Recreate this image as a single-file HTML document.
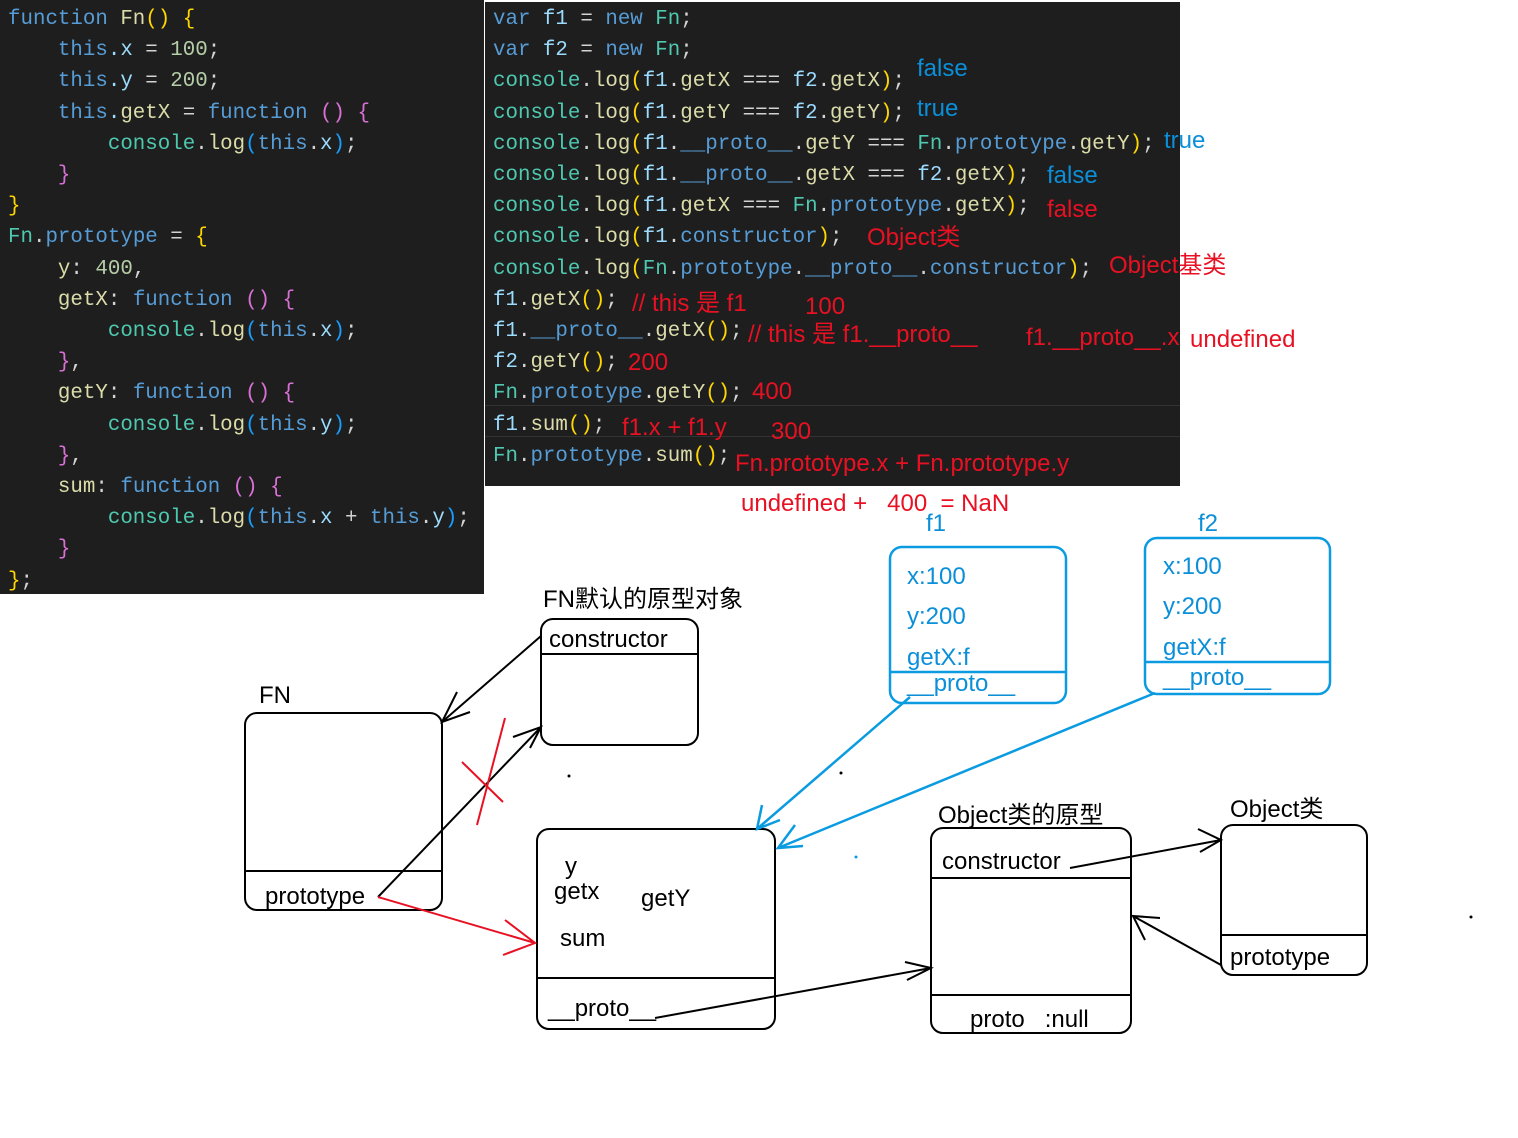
<!DOCTYPE html>
<html><head><meta charset="utf-8"><style>
body{margin:0;width:1518px;height:1138px;background:#fff;position:relative;overflow:hidden;font-family:"Liberation Sans","Noto Sans CJK SC",sans-serif}
.p{position:absolute;background:#1e1e1e}
.c{position:absolute;font-family:"Liberation Mono",monospace;font-size:20.8px;white-space:pre;line-height:24px;color:#9cdcfe}
.t{position:absolute;white-space:pre;font-size:24px;line-height:28px}
.r{color:#e81123}.b{color:#0a8fd8}.k{color:#000}
.kw{color:#569cd6}.cl{color:#4ec9b0}.fn{color:#dcdcaa}.nm{color:#b5cea8}.y{color:#ffd700}.pu{color:#da70d6}.w{color:#d4d4d4}.bl{color:#179fff}
</style></head><body>
<div class="p" style="left:0;top:0;width:484px;height:594px"></div>
<div class="p" style="left:485;left:485px;top:2px;width:695px;height:484px"></div>
<div style="position:absolute;left:485px;top:405px;width:695px;height:1px;background:#333"></div>
<div style="position:absolute;left:485px;top:436px;width:695px;height:1px;background:#333"></div>
<div class="c" style="left:8px;top:4px;line-height:31.2px"><span class="kw">function</span> <span class="fn">Fn</span><span class="y">()</span> <span class="y">{</span>
    <span class="kw">this</span>.x <span class="w">=</span> <span class="nm">100</span><span class="w">;</span>
    <span class="kw">this</span>.y <span class="w">=</span> <span class="nm">200</span><span class="w">;</span>
    <span class="kw">this</span>.<span class="fn">getX</span> <span class="w">=</span> <span class="kw">function</span> <span class="pu">()</span> <span class="pu">{</span>
        <span class="cl">console</span><span class="w">.</span><span class="fn">log</span><span class="bl">(</span><span class="kw">this</span><span class="w">.</span>x<span class="bl">)</span><span class="w">;</span>
    <span class="pu">}</span>
<span class="y">}</span>
<span class="cl">Fn</span><span class="w">.</span><span class="kw">prototype</span> <span class="w">=</span> <span class="y">{</span>
    <span class="fn">y</span><span class="w">:</span> <span class="nm">400</span><span class="w">,</span>
    <span class="fn">getX</span><span class="w">:</span> <span class="kw">function</span> <span class="pu">()</span> <span class="pu">{</span>
        <span class="cl">console</span><span class="w">.</span><span class="fn">log</span><span class="bl">(</span><span class="kw">this</span><span class="w">.</span>x<span class="bl">)</span><span class="w">;</span>
    <span class="pu">}</span><span class="w">,</span>
    <span class="fn">getY</span><span class="w">:</span> <span class="kw">function</span> <span class="pu">()</span> <span class="pu">{</span>
        <span class="cl">console</span><span class="w">.</span><span class="fn">log</span><span class="bl">(</span><span class="kw">this</span><span class="w">.</span>y<span class="bl">)</span><span class="w">;</span>
    <span class="pu">}</span><span class="w">,</span>
    <span class="fn">sum</span><span class="w">:</span> <span class="kw">function</span> <span class="pu">()</span> <span class="pu">{</span>
        <span class="cl">console</span><span class="w">.</span><span class="fn">log</span><span class="bl">(</span><span class="kw">this</span><span class="w">.</span>x <span class="w">+</span> <span class="kw">this</span><span class="w">.</span>y<span class="bl">)</span><span class="w">;</span>
    <span class="pu">}</span>
<span class="y">}</span><span class="w">;</span></div>
<div class="c" style="left:493px;top:4px;line-height:31.2px"><span class="kw">var</span> f1 <span class="w">=</span> <span class="kw">new</span> <span class="cl">Fn</span><span class="w">;</span>
<span class="kw">var</span> f2 <span class="w">=</span> <span class="kw">new</span> <span class="cl">Fn</span><span class="w">;</span>
<span class="cl">console</span><span class="w">.</span><span class="fn">log</span><span class="y">(</span>f1<span class="w">.</span><span class="fn">getX</span> <span class="w">===</span> f2<span class="w">.</span><span class="fn">getX</span><span class="y">)</span><span class="w">;</span>
<span class="cl">console</span><span class="w">.</span><span class="fn">log</span><span class="y">(</span>f1<span class="w">.</span><span class="fn">getY</span> <span class="w">===</span> f2<span class="w">.</span><span class="fn">getY</span><span class="y">)</span><span class="w">;</span>
<span class="cl">console</span><span class="w">.</span><span class="fn">log</span><span class="y">(</span>f1<span class="w">.</span><span class="kw">__proto__</span><span class="w">.</span><span class="fn">getY</span> <span class="w">===</span> <span class="cl">Fn</span><span class="w">.</span><span class="kw">prototype</span><span class="w">.</span><span class="fn">getY</span><span class="y">)</span><span class="w">;</span>
<span class="cl">console</span><span class="w">.</span><span class="fn">log</span><span class="y">(</span>f1<span class="w">.</span><span class="kw">__proto__</span><span class="w">.</span><span class="fn">getX</span> <span class="w">===</span> f2<span class="w">.</span><span class="fn">getX</span><span class="y">)</span><span class="w">;</span>
<span class="cl">console</span><span class="w">.</span><span class="fn">log</span><span class="y">(</span>f1<span class="w">.</span><span class="fn">getX</span> <span class="w">===</span> <span class="cl">Fn</span><span class="w">.</span><span class="kw">prototype</span><span class="w">.</span><span class="fn">getX</span><span class="y">)</span><span class="w">;</span>
<span class="cl">console</span><span class="w">.</span><span class="fn">log</span><span class="y">(</span>f1<span class="w">.</span><span class="kw">constructor</span><span class="y">)</span><span class="w">;</span>
<span class="cl">console</span><span class="w">.</span><span class="fn">log</span><span class="y">(</span><span class="cl">Fn</span><span class="w">.</span><span class="kw">prototype</span><span class="w">.</span><span class="kw">__proto__</span><span class="w">.</span><span class="kw">constructor</span><span class="y">)</span><span class="w">;</span>
f1<span class="w">.</span><span class="fn">getX</span><span class="y">()</span><span class="w">;</span>
f1<span class="w">.</span><span class="kw">__proto__</span><span class="w">.</span><span class="fn">getX</span><span class="y">()</span><span class="w">;</span>
f2<span class="w">.</span><span class="fn">getY</span><span class="y">()</span><span class="w">;</span>
<span class="cl">Fn</span><span class="w">.</span><span class="kw">prototype</span><span class="w">.</span><span class="fn">getY</span><span class="y">()</span><span class="w">;</span>
f1<span class="w">.</span><span class="fn">sum</span><span class="y">()</span><span class="w">;</span>
<span class="cl">Fn</span><span class="w">.</span><span class="kw">prototype</span><span class="w">.</span><span class="fn">sum</span><span class="y">()</span><span class="w">;</span></div>
<div class="t b" style="left:917px;top:55px">false</div>
<div class="t b" style="left:917px;top:95px">true</div>
<div class="t b" style="left:1164px;top:127px">true</div>
<div class="t b" style="left:1047px;top:162px">false</div>
<div class="t r" style="left:1047px;top:196px">false</div>
<div class="t r" style="left:867px;top:224px">Object类</div>
<div class="t r" style="left:1109px;top:252px">Object基类</div>
<div class="t r" style="left:632px;top:290px">// this 是 f1</div>
<div class="t r" style="left:805px;top:293px">100</div>
<div class="t r" style="left:748px;top:321px">// this 是 f1.__proto__</div>
<div class="t r" style="left:1026px;top:324px">f1.__proto__.x</div>
<div class="t r" style="left:1190px;top:326px">undefined</div>
<div class="t r" style="left:628px;top:349px">200</div>
<div class="t r" style="left:752px;top:378px">400</div>
<div class="t r" style="left:622px;top:414px">f1.x + f1.y</div>
<div class="t r" style="left:771px;top:418px">300</div>
<div class="t r" style="left:735px;top:450px">Fn.prototype.x + Fn.prototype.y</div>
<div class="t r" style="left:741px;top:490px">undefined +&nbsp;&nbsp;&nbsp;400&nbsp;&nbsp;= NaN</div>
<svg style="position:absolute;left:0;top:0" width="1518" height="1138">
<g fill="none" stroke="#000" stroke-width="2">
<rect x="245" y="713" width="197" height="197" rx="12"/><line x1="245" y1="871" x2="442" y2="871"/>
<rect x="541" y="619" width="157" height="126" rx="12"/><line x1="541" y1="654" x2="698" y2="654"/>
<rect x="537" y="829" width="238" height="200" rx="12"/><line x1="537" y1="978" x2="775" y2="978"/>
<rect x="931" y="828" width="200" height="205" rx="12"/><line x1="931" y1="878" x2="1131" y2="878"/><line x1="931" y1="995" x2="1131" y2="995"/>
<rect x="1221" y="825" width="146" height="150" rx="12"/><line x1="1221" y1="935" x2="1367" y2="935"/>
<path d="M442 722 L541 636 M457 692 L442 722 L470 712"/>
<path d="M378 897 L541 727 M513 737 L541 727 L530 748"/>
<path d="M655 1018 L931 968 M905 962 L931 968 L907 980"/>
<path d="M1070 868 L1221 840 M1198 829 L1221 840 L1200 852"/>
<path d="M1221 965 L1133 916 M1145 940 L1133 916 L1160 918"/>
</g>
<g fill="none" stroke="#e81123" stroke-width="2">
<path d="M378 897 L535 943 M505 920 L535 943 L503 955"/>
<path d="M505 718 L477 825 M462 762 L503 802"/>
</g>
<g fill="none" stroke="#0a9be0" stroke-width="2.5">
<rect x="890" y="547" width="176" height="156" rx="12"/><line x1="890" y1="672" x2="1066" y2="672"/>
<rect x="1145" y="538" width="185" height="156" rx="12"/><line x1="1145" y1="662" x2="1330" y2="662"/>
<path d="M910 697 L757 829 M762 805 L757 829 L780 820"/>
<path d="M1155 693 L778 848 M795 825 L778 848 L803 846"/>
</g>
<g fill="#000"><circle cx="569" cy="776" r="1.5"/><circle cx="841" cy="773" r="1.5"/><circle cx="1471" cy="917" r="1.5"/></g>
<circle cx="856" cy="857" r="1.5" fill="#0a9be0"/>
</svg>
<div class="t k" style="left:259px;top:682px">FN</div>
<div class="t k" style="left:265px;top:883px">prototype</div>
<div class="t k" style="left:543px;top:586px">FN默认的原型对象</div>
<div class="t k" style="left:549px;top:626px">constructor</div>
<div class="t k" style="left:565px;top:853px">y</div>
<div class="t k" style="left:554px;top:878px">getx</div>
<div class="t k" style="left:641px;top:885px">getY</div>
<div class="t k" style="left:560px;top:925px">sum</div>
<div class="t k" style="left:548px;top:995px">__proto__</div>
<div class="t b" style="left:926px;top:510px">f1</div>
<div class="t b" style="left:907px;top:563px">x:100</div>
<div class="t b" style="left:907px;top:603px">y:200</div>
<div class="t b" style="left:907px;top:644px">getX:f</div>
<div class="t b" style="left:907px;top:670px">__proto__</div>
<div class="t b" style="left:1198px;top:510px">f2</div>
<div class="t b" style="left:1163px;top:553px">x:100</div>
<div class="t b" style="left:1163px;top:593px">y:200</div>
<div class="t b" style="left:1163px;top:634px">getX:f</div>
<div class="t b" style="left:1163px;top:664px">__proto__</div>
<div class="t k" style="left:938px;top:802px">Object类的原型</div>
<div class="t k" style="left:942px;top:848px">constructor</div>
<div class="t k" style="left:970px;top:1006px">proto&nbsp;&nbsp;&nbsp;:null</div>
<div class="t k" style="left:1230px;top:796px">Object类</div>
<div class="t k" style="left:1230px;top:944px">prototype</div>
</body></html>
